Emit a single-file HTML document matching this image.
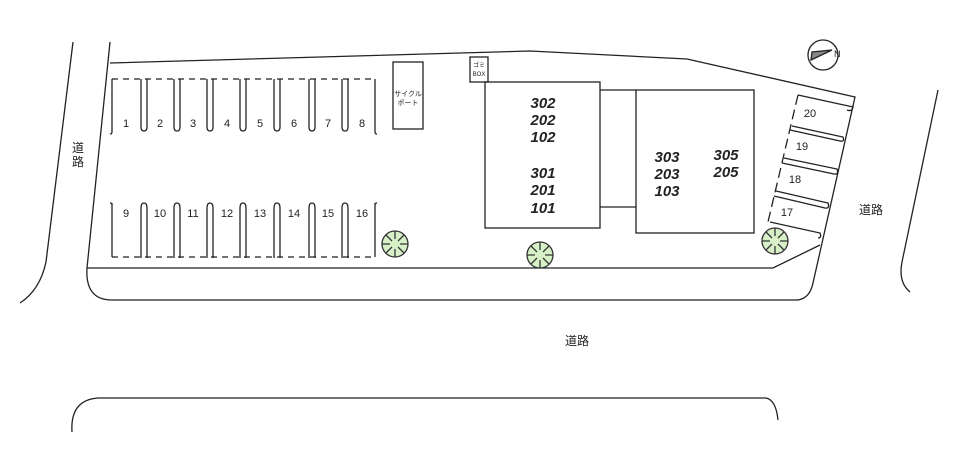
<!DOCTYPE html>
<html><head><meta charset="utf-8"><style>
html,body{margin:0;padding:0;background:#fff;}
svg{display:block;}
text{font-family:"Liberation Sans","Noto Sans CJK JP",sans-serif;fill:#222;}
.b{font-weight:bold;font-style:italic;font-size:15px;text-anchor:middle;}
.n{font-size:11px;text-anchor:middle;}
</style></head><body>
<svg width="960" height="453" viewBox="0 0 960 453" xmlns="http://www.w3.org/2000/svg" fill="none" stroke="#222" stroke-width="1.3">
<defs>
<path id="tu" d="M-3,0 V48 Q-3,52 0,52 Q3,52 3,48 V0"/>
<path id="td" d="M-3,55 V5 Q-3,0 0,0 Q3,0 3,5 V55"/>
<g id="tree"><circle r="13" fill="#d8f0c8" stroke="#333"/><path d="M0,-13 V-5 M9,-9 L3,-3 M13,0 H5 M9,9 L3,3 M0,13 V5 M-9,9 L-3,3 M-13,0 H-5 M-9,-9 L-3,-3" stroke="#333"/></g>
</defs>
<!-- roads -->
<path d="M73,42 L46,262 Q40,290 20,303"/>
<path d="M938,90 L902,262 Q898,282 910,292"/>
<path d="M72,432 Q70,400 98,398 H766 Q776,400 778,420"/>
<!-- lot outline -->
<path d="M110,42 L87,268 Q85,300 112,300 H798 Q810,298 813,283 L855,97 L687,59 L530,51 L110,63"/>
<path d="M87,268 H773 L820,245"/>
<!-- upper row -->
<path d="M112,79 V132 Q112,134 110,134 M375,79 V132 Q375,134 377,134"/>
<path d="M112,79 H375" stroke-dasharray="6,5"/>
<use href="#tu" x="144" y="79"/><use href="#tu" x="177" y="79"/><use href="#tu" x="210" y="79"/><use href="#tu" x="243" y="79"/><use href="#tu" x="277" y="79"/><use href="#tu" x="312" y="79"/><use href="#tu" x="345" y="79"/>
<!-- lower row -->
<path d="M112,203 V257 M375,203 V257 M110,203 Q112,203 112,205 M377,203 Q375,203 375,205"/>
<path d="M112,257 H375" stroke-dasharray="6,5"/>
<use href="#td" x="144" y="203"/><use href="#td" x="177" y="203"/><use href="#td" x="210" y="203"/><use href="#td" x="243" y="203"/><use href="#td" x="277" y="203"/><use href="#td" x="312" y="203"/><use href="#td" x="345" y="203"/>
<!-- cycle port, gomi -->
<rect x="393" y="62" width="30" height="67"/>
<rect x="470" y="57" width="18" height="25"/>
<!-- buildings -->
<rect x="485" y="82" width="115" height="146"/>
<path d="M600,90 H636 M600,207 H636"/>
<rect x="636" y="90" width="118" height="143"/>
<!-- right slots -->
<path d="M798,95 L768,222" stroke-dasharray="10,5"/>
<path d="M798,95 L853,107 Q852,112 847,110"/>
<path d="M792,126 L843,137 Q845,142 840,141 L790,130"/>
<path d="M784,158 L837,169 Q839,175 834,174 L782,163"/>
<path d="M776,191 L828,203 Q830,209 825,208 L774,196"/>
<path d="M770,222 L820,233 Q822,238 818,238"/>
<!-- compass -->
<circle cx="823" cy="55" r="15"/>
<path d="M811,60 L832,50 L812,52 Z" fill="#888"/>
<text x="834" y="57" font-size="9" stroke="none">N</text>
<use href="#tree" x="395" y="244"/>
<use href="#tree" x="540" y="255"/>
<use href="#tree" x="775" y="241"/>
<g stroke="none">
<text class="n" x="126" y="127">1</text><text class="n" x="160" y="127">2</text><text class="n" x="193" y="127">3</text><text class="n" x="227" y="127">4</text><text class="n" x="260" y="127">5</text><text class="n" x="294" y="127">6</text><text class="n" x="328" y="127">7</text><text class="n" x="362" y="127">8</text>
<text class="n" x="126" y="217">9</text><text class="n" x="160" y="217">10</text><text class="n" x="193" y="217">11</text><text class="n" x="227" y="217">12</text><text class="n" x="260" y="217">13</text><text class="n" x="294" y="217">14</text><text class="n" x="328" y="217">15</text><text class="n" x="362" y="217">16</text>
<text class="n" x="810" y="117">20</text><text class="n" x="802" y="150">19</text><text class="n" x="795" y="183">18</text><text class="n" x="787" y="216">17</text>
<text x="408" y="96" font-size="7" text-anchor="middle">サイクル</text>
<text x="408" y="105" font-size="7" text-anchor="middle">ポート</text>
<text x="479" y="67" font-size="6" text-anchor="middle">ゴミ</text>
<text x="479" y="76" font-size="6" text-anchor="middle">BOX</text>
<text class="b" x="543" y="108">302</text><text class="b" x="543" y="125">202</text><text class="b" x="543" y="142">102</text>
<text class="b" x="543" y="178">301</text><text class="b" x="543" y="195">201</text><text class="b" x="543" y="213">101</text>
<text class="b" x="667" y="162">303</text><text class="b" x="667" y="179">203</text><text class="b" x="667" y="196">103</text>
<text class="b" x="726" y="160">305</text><text class="b" x="726" y="177">205</text>
<text x="78" y="152" font-size="12" text-anchor="middle">道</text>
<text x="78" y="166" font-size="12" text-anchor="middle">路</text>
<text x="871" y="214" font-size="12" text-anchor="middle">道路</text>
<text x="577" y="345" font-size="12" text-anchor="middle">道路</text>
</g>
</svg>
</body></html>
